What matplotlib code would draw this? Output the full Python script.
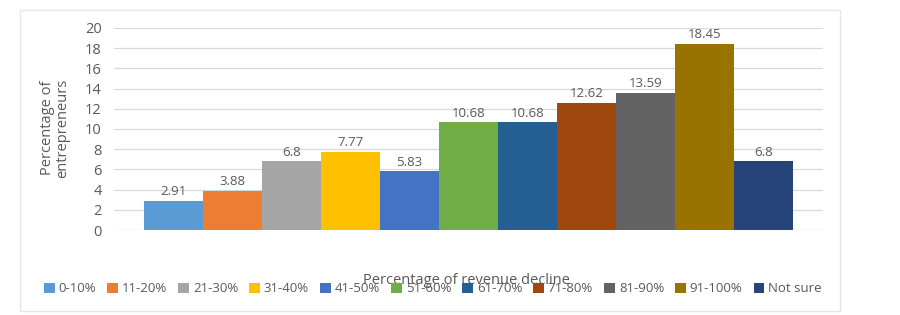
import matplotlib
matplotlib.use("Agg")
import matplotlib.pyplot as plt
from matplotlib.patches import Rectangle

categories = ["0-10%", "11-20%", "21-30%", "31-40%", "41-50%", "51-60%",
              "61-70%", "71-80%", "81-90%", "91-100%", "Not sure"]
values = [2.91, 3.88, 6.8, 7.77, 5.83, 10.68, 10.68, 12.62, 13.59, 18.45, 6.8]
labels = ["2.91", "3.88", "6.8", "7.77", "5.83", "10.68", "10.68", "12.62", "13.59", "18.45", "6.8"]
colors = ["#5B9BD5", "#ED7D31", "#A5A5A5", "#FFC000", "#4472C4", "#70AD47",
          "#255E91", "#9E480E", "#636363", "#997300", "#264478"]
yticks = [0, 2, 4, 6, 8, 10, 12, 14, 16, 18, 20]

plt.rcParams['font.family'] = ['Open Sans', 'DejaVu Sans']
W, H = 900, 315
fig = plt.figure(figsize=(9, 3.15), dpi=100)
fig.patch.set_facecolor("white")

# outer chart border
fig.patches.append(Rectangle((20 / W, 1 - 311 / H), 820 / W, 301 / H,
                             transform=fig.transFigure, fill=False,
                             edgecolor="#E6E6E6", linewidth=1))

ax = fig.add_axes([114 / W, 1 - 230 / H, (823 - 114) / W, (230 - 28) / H])
handles = []
for i, (c, v, lab, col) in enumerate(zip(categories, values, labels, colors)):
    b = ax.bar(i, v, width=1.0, color=col, label=c, zorder=3)
    handles.append(b)
    ax.text(i, v + 0.25, lab, ha="center", va="bottom", fontsize=9.5,
            color="#595959", zorder=4)

ax.set_xlim(-1, 11)
ax.set_ylim(0, 20)
ax.set_yticks(yticks)
ax.set_yticklabels([str(t) for t in yticks], fontsize=10.5, color="#595959")
ax.set_xticks([])
ax.grid(axis="y", color="#D9D9D9", linewidth=0.9, zorder=0)
for s in ax.spines.values():
    s.set_visible(False)
ax.tick_params(axis="y", length=0, pad=9)

fig.text(55 / W, 1 - 128 / H, "Percentage of\nentrepreneurs", rotation=90,
         ha="center", va="center", fontsize=10.5, color="#595959", linespacing=1.0)
fig.text(466 / W, 1 - 281 / H, "Percentage of revenue decline", ha="center",
         va="center", fontsize=10.5, color="#595959")

leg = fig.legend(handles=handles, labels=categories, loc="center",
                 bbox_to_anchor=(433 / W, 1 - 289 / H), ncol=11, frameon=False,
                 fontsize=9.5, handlelength=0.8, handleheight=0.8,
                 handletextpad=0.3, columnspacing=0.85, borderaxespad=0)
for t in leg.get_texts():
    t.set_color("#595959")

fig.savefig("out.png", dpi=100, facecolor="white")
